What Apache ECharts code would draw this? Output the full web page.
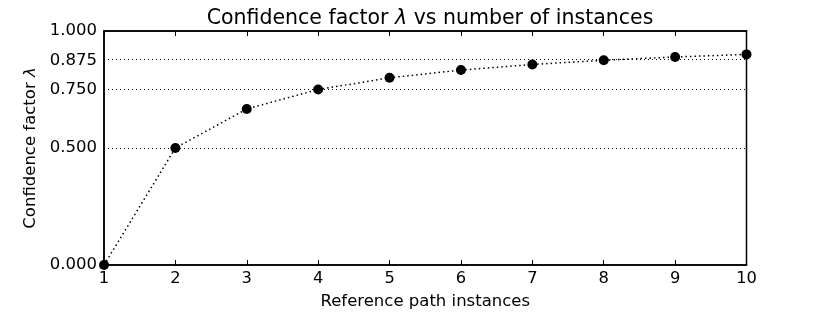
<!DOCTYPE html>
<html>
<head>
<meta charset="utf-8">
<script src="https://cdn.jsdelivr.net/npm/echarts@6/dist/echarts.min.js"></script>
<style>html,body{margin:0;padding:0;background:#fff}#c{width:830px;height:312px}</style>
</head>
<body>
<div id="c"></div>
<script>
const instances = [1, 2, 3, 4, 5, 6, 7, 8, 9, 10];
const confidence = [0, 0.5, 0.667, 0.75, 0.8, 0.833, 0.857, 0.875, 0.889, 0.9];
const yTickValues = [0, 0.5, 0.75, 0.875, 1.0];
const gridValues = [0.5, 0.75, 0.875];

const font = 'DejaVu Sans';
const chart = echarts.init(document.getElementById('c'), null, {renderer: 'canvas'});
chart.setOption({
  animation: false,
  backgroundColor: '#fff',
  title: {
    text: 'Confidence factor {i|λ} vs number of instances',
    left: 425, top: 3, textAlign: 'center',
    textStyle: {fontFamily: font, fontSize: 20.5, fontWeight: 'normal', color: '#000',
      rich: {i: {fontFamily: font, fontSize: 20.5, fontStyle: 'italic', color: '#000'}}}
  },
  grid: {left: 104, right: 83.5, top: 31, bottom: 47, show: true, borderColor: '#000', borderWidth: 1.5,
    containLabel: false, outerBoundsMode: 'none'},
  xAxis: [{
    type: 'value', min: 1, max: 10, interval: 1,
    name: 'Reference path instances', nameLocation: 'middle', nameGap: 28,
    nameTextStyle: {fontFamily: font, fontSize: 16.5, color: '#000'},
    axisLine: {show: true, lineStyle: {color: '#000', width: 1.5}},
    axisTick: {show: true, inside: true, length: 5, lineStyle: {color: '#000'}},
    axisLabel: {fontFamily: font, fontSize: 16.3, color: '#000', margin: 6},
    splitLine: {show: false}
  }, {
    type: 'value', position: 'top', min: 1, max: 10, interval: 1,
    axisLine: {show: true, lineStyle: {color: '#000', width: 1.5}},
    axisTick: {show: true, inside: true, length: 5, lineStyle: {color: '#000'}},
    axisLabel: {show: false},
    splitLine: {show: false}
  }],
  yAxis: {
    type: 'value', min: 0, max: 1,
    name: 'Confidence factor {i|λ}', nameLocation: 'middle', nameGap: 62,
    nameTextStyle: {fontFamily: font, fontSize: 16.5, color: '#000',
      rich: {i: {fontFamily: font, fontSize: 16.5, fontStyle: 'italic', color: '#000'}}},
    axisLine: {show: true, lineStyle: {color: '#000', width: 1.5}},
    axisTick: {show: false},
    axisLabel: {fontFamily: font, fontSize: 16.5, color: '#000', margin: 7,
      customValues: yTickValues,
      formatter: v => v.toFixed(3)},
    splitLine: {show: false}
  },
  series: [{
    type: 'line',
    data: instances.map((x, i) => [x, confidence[i]]),
    symbol: 'circle', symbolSize: 10,
    itemStyle: {color: '#000'},
    lineStyle: {color: '#000', width: 1.5, type: [1.5, 3]},
    markLine: {
      silent: true, symbol: 'none', label: {show: false},
      lineStyle: {color: '#000', width: 1, type: [1, 3]},
      data: gridValues.map(v => ({yAxis: v}))
    }
  }]
});
</script>
</body>
</html>
